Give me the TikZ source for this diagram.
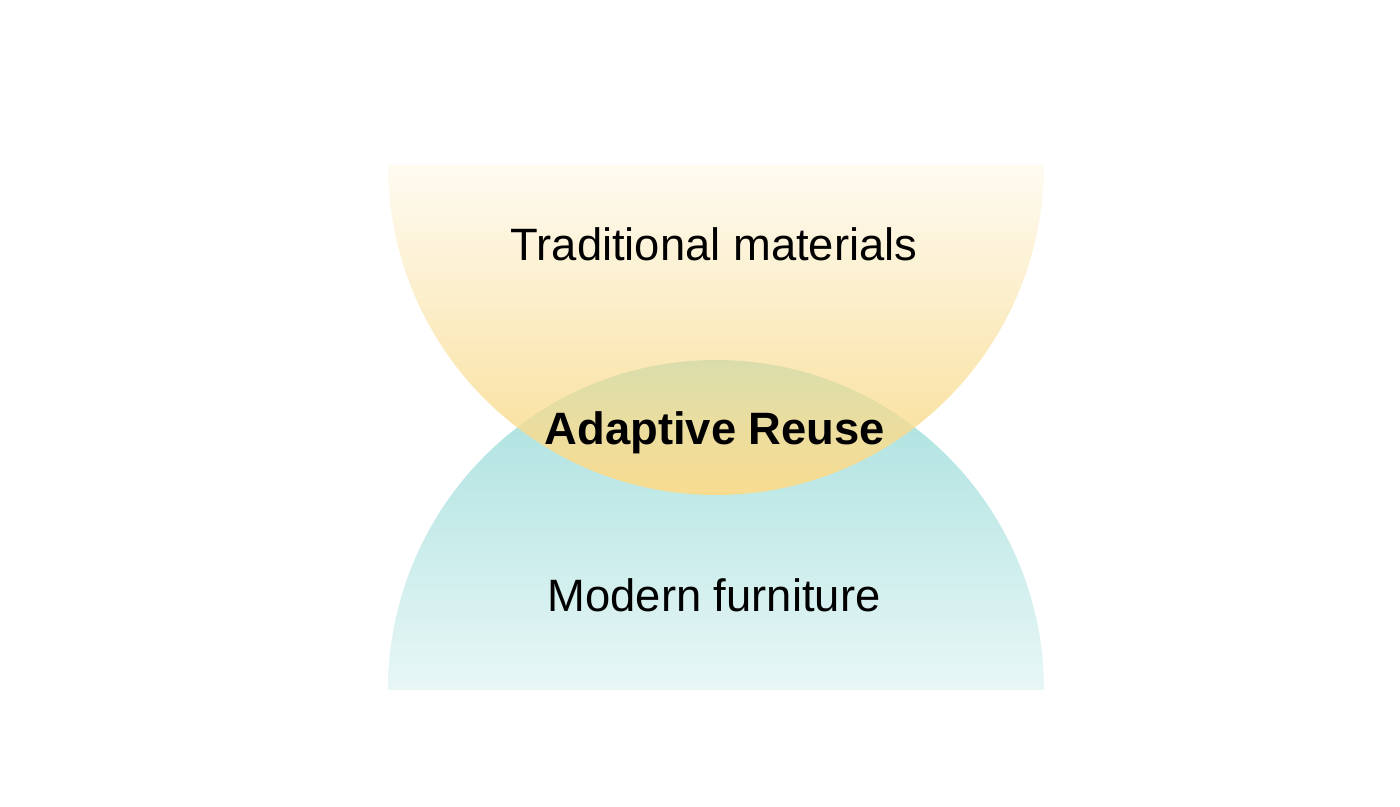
\documentclass[tikz,border=0pt]{standalone}
\usepackage{fontspec}
\setmainfont{Liberation Sans}
\usetikzlibrary{fadings}
\definecolor{bowlyellow}{HTML}{F8DC90}
\definecolor{dometeal}{HTML}{A4DFDD}
\definecolor{domepale}{HTML}{E8F7F6}
\tikzfading[name=bowlfade, top color=transparent!88, middle color=transparent!34, bottom color=transparent!0]
\begin{document}
\begin{tikzpicture}[x=0.01cm, y=0.01cm, font=\fontsize{12.9}{15}\selectfont, line join=round]
		\useasboundingbox (0,0) rectangle (1400,807);
		\shade[top color=dometeal, bottom color=domepale] (1044,117) arc (0:180:328 and 330) -- cycle;
		\fill[bowlyellow, path fading=bowlfade] (388,642) arc (180:360:328 and 330) -- cycle;
		\node (trad) at (714,546)[anchor=base] {Traditional materials};
		\node (reuse) at (715,362)[anchor=base] {\bfseries Adaptive Reuse};
		\node (modern) at (714,195)[anchor=base] {Modern furniture};
		\end{tikzpicture}
\end{document}
